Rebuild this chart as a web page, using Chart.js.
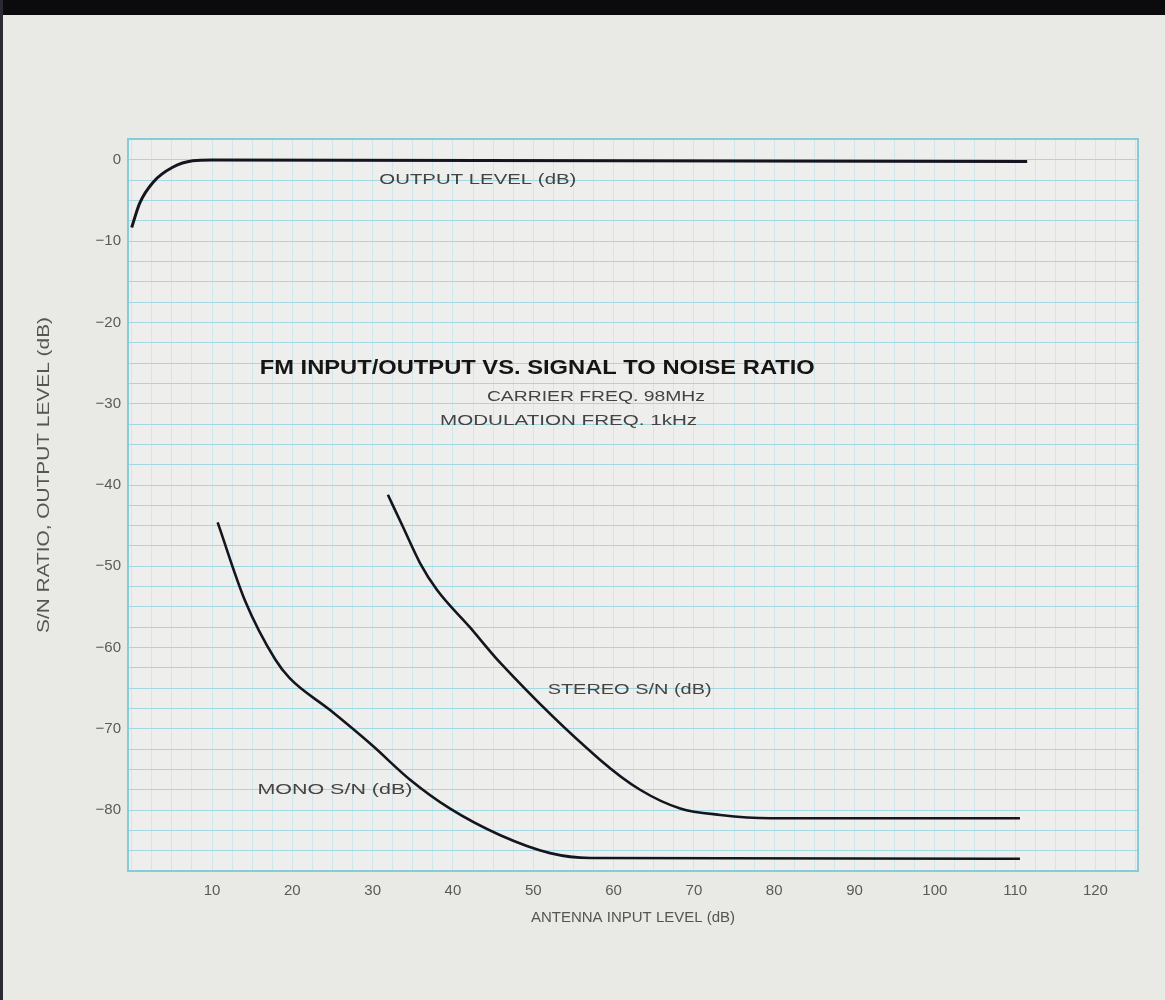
<!DOCTYPE html>
<html>
<head>
<meta charset="utf-8">
<script src="https://cdn.jsdelivr.net/npm/chart.js@4.4.1/dist/chart.umd.min.js"></script>
<style>
  html, body { margin: 0; padding: 0; background: #e9e9e5; }
  #wrap { position: relative; width: 1165px; height: 1000px; overflow: hidden; }
  #band { position: absolute; left: 0; top: 0; width: 1165px; height: 15px; background: #0b0b0e; }
  #edge { position: absolute; left: 0; top: 0; width: 3px; height: 1000px; background: #2a2a33; }
  canvas { position: absolute; left: 0; top: 0; }
</style>
</head>
<body>
<div id="wrap">
  <canvas id="c" width="1165" height="1000"></canvas>
  <div id="band"></div>
  <div id="edge"></div>
</div>
<script>
// tick labels
const xTickLabels = [10, 20, 30, 40, 50, 60, 70, 80, 90, 100, 110, 120];
const yTickLabels = [0, -10, -20, -30, -40, -50, -60, -70, -80];

// antenna input level (dB) / output level (dB)
const outputIn = [0, 1, 2.7, 5.1, 7.6, 10, 111.5];
const outputDb = [-8.3, -5.3, -2.7, -0.9, -0.1, 0, -0.2];

// mono S/N (dB)
const monoIn = [10.7, 14.1, 17.9, 19.7, 24.7, 29.9, 34.7, 39.6, 45.9, 52.1, 57.1, 110.6];
const monoDb = [-44.6, -54.2, -61.5, -63.8, -67.7, -72, -76.3, -79.8, -83.1, -85.3, -85.9, -86];

// stereo S/N (dB)
const stereoIn = [31.9, 33.8, 35.9, 38, 42.1, 45.9, 58.3, 63.3, 68.3, 73.3, 79.5, 110.6];
const stereoDb = [-41.2, -45.2, -49.6, -52.9, -57.5, -61.9, -73.8, -77.5, -79.8, -80.6, -81, -81];

const pts = (xs, ys) => xs.map((x, i) => ({ x: x, y: ys[i] }));

const INK = '#15151f';
const GRID = '#a3d7e2';
const GRID_V = '#cfe6ea';

function fitText(ctx, text, cx, cy, width, font, color) {
  ctx.save();
  ctx.font = font;
  ctx.fillStyle = color;
  ctx.textAlign = 'center';
  ctx.textBaseline = 'middle';
  const w = ctx.measureText(text).width;
  ctx.translate(cx, cy);
  ctx.scale(width / w, 1);
  ctx.fillText(text, 0, 0);
  ctx.restore();
}

const paper = {
  id: 'paper',
  beforeDraw(chart) {
    const { ctx, chartArea: a } = chart;
    ctx.save();
    ctx.fillStyle = '#eeefec';
    ctx.fillRect(a.left, a.top, a.right - a.left, a.bottom - a.top);
    ctx.restore();
  },
  afterDraw(chart) {
    const { ctx, chartArea: a, scales } = chart;
    ctx.save();
    ctx.strokeStyle = '#86cbd9';
    ctx.lineWidth = 2;
    ctx.strokeRect(a.left, a.top, a.right - a.left, a.bottom - a.top);
    ctx.restore();

    const sx = v => scales.x.getPixelForValue(v);
    const sy = v => scales.y.getPixelForValue(v);
    fitText(ctx, 'FM INPUT/OUTPUT VS. SIGNAL TO NOISE RATIO', sx(50.5), sy(-25.6), 555,
      'bold 21px "Liberation Sans", Arial, sans-serif', '#151515');
    fitText(ctx, 'CARRIER FREQ. 98MHz', sx(57.8), sy(-29.2), 218,
      '15px "Liberation Sans", Arial, sans-serif', '#444');
    fitText(ctx, 'MODULATION FREQ. 1kHz', sx(54.4), sy(-32.1), 257,
      '15px "Liberation Sans", Arial, sans-serif', '#444');
    fitText(ctx, 'OUTPUT LEVEL (dB)', sx(43.1), sy(-2.5), 197,
      '15px "Liberation Sans", Arial, sans-serif', '#444');
    fitText(ctx, 'STEREO S/N (dB)', sx(62), sy(-65.2), 164,
      '15px "Liberation Sans", Arial, sans-serif', '#444');
    fitText(ctx, 'MONO S/N (dB)', sx(25.3), sy(-77.5), 155,
      '15px "Liberation Sans", Arial, sans-serif', '#444');

    // y axis title
    ctx.save();
    ctx.translate(45, 475);
    ctx.rotate(-Math.PI / 2);
    fitText(ctx, 'S/N RATIO, OUTPUT LEVEL (dB)', 0, 0, 316,
      '16px "Liberation Sans", Arial, sans-serif', '#555');
    ctx.restore();
  }
};

const lineStyle = {
  borderColor: INK,
  borderWidth: 3,
  pointRadius: 0,
  fill: false,
  cubicInterpolationMode: 'monotone'
};

new Chart(document.getElementById('c'), {
  type: 'line',
  data: {
    datasets: [
      Object.assign({ label: 'OUTPUT LEVEL (dB)', data: pts(outputIn, outputDb) }, lineStyle),
      Object.assign({ label: 'MONO S/N (dB)', data: pts(monoIn, monoDb) }, lineStyle, { borderWidth: 2.6 }),
      Object.assign({ label: 'STEREO S/N (dB)', data: pts(stereoIn, stereoDb) }, lineStyle, { borderWidth: 2.6 })
    ]
  },
  options: {
    responsive: false,
    animation: false,
    layout: { padding: { left: 0, top: 139, right: 27, bottom: 0 } },
    plugins: { legend: { display: false }, tooltip: { enabled: false } },
    scales: {
      x: {
        type: 'linear',
        min: -0.46,
        max: 125.3,
        afterFit(s) { s.height = 129; },
        afterBuildTicks(s) {
          const t = [];
          for (let v = 0; v <= 125; v += 2.5) t.push({ value: v });
          s.ticks = t;
        },
        ticks: {
          autoSkip: false,
          maxRotation: 0,
          padding: 11,
          color: '#5a5a5a',
          font: { family: '"Liberation Sans", Arial, sans-serif', size: 15 },
          callback: v => xTickLabels.includes(v) ? String(v) : ''
        },
        grid: { color: GRID_V, lineWidth: 1, drawTicks: false },
        border: { display: false },
        title: {
          display: true,
          text: 'ANTENNA INPUT LEVEL (dB)',
          color: '#555',
          padding: { top: 0, bottom: 73 },
          font: { family: '"Liberation Sans", Arial, sans-serif', size: 15 }
        }
      },
      y: {
        type: 'linear',
        min: -87.5,
        max: 2.58,
        afterFit(s) { s.width = 128; },
        afterBuildTicks(s) {
          const t = [];
          for (let v = -87.5; v <= 2.5; v += 2.5) t.push({ value: v });
          s.ticks = t;
        },
        ticks: {
          autoSkip: false,
          padding: 7,
          color: '#5a5a5a',
          font: { family: '"Liberation Sans", Arial, sans-serif', size: 15 },
          callback: v => yTickLabels.includes(v) ? (v < 0 ? '\u2212' + Math.abs(v) : String(v)) : ''
        },
        grid: { color: GRID, lineWidth: 1, drawTicks: false },
        border: { display: false }
      }
    }
  },
  plugins: [paper]
});
</script>
</body>
</html>
